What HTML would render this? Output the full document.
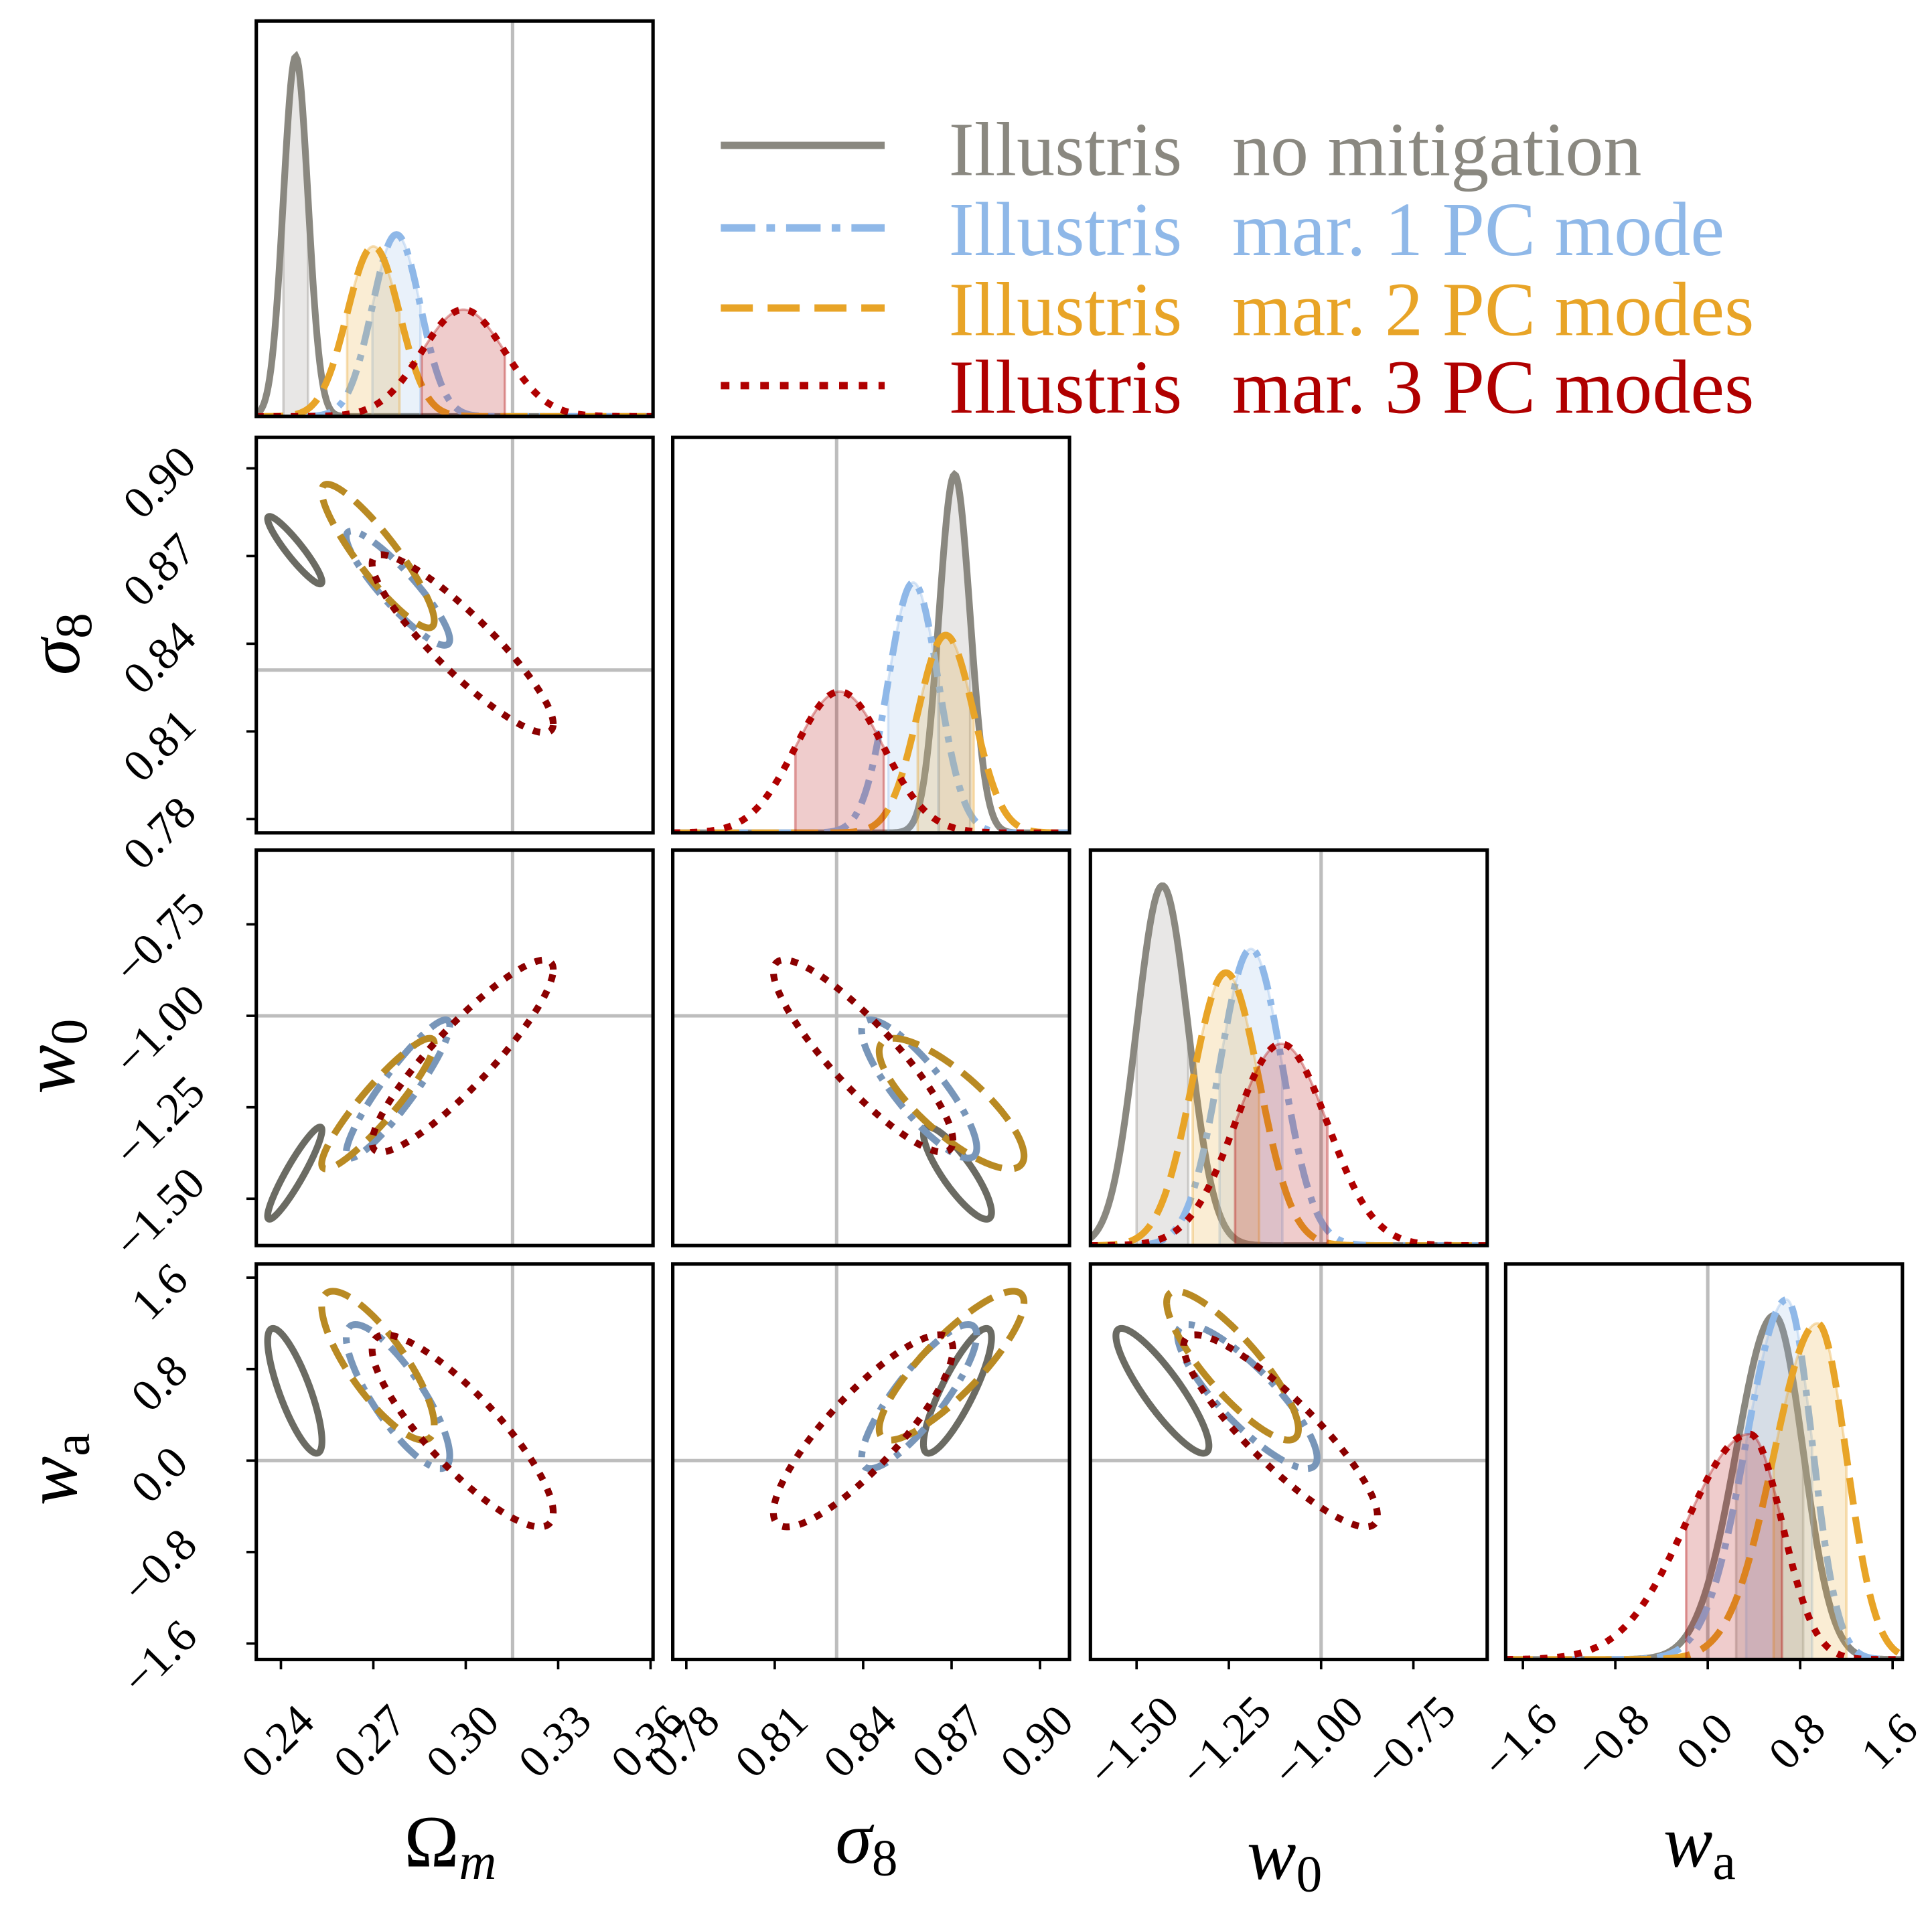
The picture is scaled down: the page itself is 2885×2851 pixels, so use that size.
<!DOCTYPE html>
<html><head><meta charset="utf-8"><style>
html,body{margin:0;padding:0;background:#fff}
svg{display:block}
text{font-family:"Liberation Serif","DejaVu Serif",serif}
</style></head><body>
<svg id="chart" width="2885" height="2851" viewBox="0 0 1568 1549.5" xmlns="http://www.w3.org/2000/svg"></svg>
<script>
// ---- data ----
const params = ["Om","s8","w0","wa"];
const seriesNames = ["no mitigation","mar. 1 PC mode","mar. 2 PC modes","mar. 3 PC modes"];
const truth = [0.3152, 0.831, -1.0, 0.0];
// 1D posteriors
const mean1dOm = [0.2448, 0.2775, 0.270, 0.2992];
const mean1dS8 = [0.871, 0.857, 0.868, 0.832];
const mean1dW0 = [-1.43, -1.19, -1.258, -1.108];
const mean1dWa = [0.576, 0.683, 0.95, 0.363];
const sig1dOm = [0.004, 0.0078, 0.0085, 0.0135];
const sig1dS8 = [0.0053, 0.0085, 0.0095, 0.015];
const sig1dW0 = [0.07, 0.085, 0.09, 0.125];
const sigLWa = [0.33, 0.35, 0.38, 0.55];
const sigRWa = [0.25, 0.22, 0.25, 0.28];
const peakOm = [0.91, 0.46, 0.43, 0.27];
const peakS8 = [0.906, 0.633, 0.50, 0.357];
const peakW0 = [0.91, 0.75, 0.69, 0.51];
const peakWa = [0.87, 0.91, 0.85, 0.57];
// 2D contour centres / widths
const mean2dOm = [0.2445, 0.278, 0.2715, 0.299];
const mean2dS8 = [0.872, 0.859, 0.870, 0.840];
const mean2dW0 = [-1.43, -1.20, -1.24, -1.11];
const mean2dWa = [0.61, 0.56, 0.83, 0.26];
const sig2dOm = [0.0042, 0.008, 0.0087, 0.014];
const sig2dS8 = [0.0055, 0.0093, 0.0117, 0.0145];
const sig2dW0 = [0.06, 0.09, 0.085, 0.125];
const sig2dWa = [0.26, 0.30, 0.31, 0.40];
const rhoOmS8 = [-0.93, -0.9, -0.9, -0.9];
const rhoOmW0 = [0.93, 0.92, 0.92, 0.9];
const rhoS8W0 = [-0.85, -0.85, -0.8, -0.88];
const rhoOmWa = [-0.8, -0.82, -0.8, -0.85];
const rhoS8Wa = [0.85, 0.85, 0.85, 0.85];
const rhoW0Wa = [-0.88, -0.85, -0.85, -0.88];
// ticks
const ticksOm = [0.24, 0.27, 0.30, 0.33, 0.36];
const ticksS8 = [0.78, 0.81, 0.84, 0.87, 0.90];
const ticksW0 = [-1.50, -1.25, -1.00, -0.75];
const ticksWa = [-1.6, -0.8, 0.0, 0.8, 1.6];
const tickLabOm = ["0.24","0.27","0.30","0.33","0.36"];
const tickLabS8 = ["0.78","0.81","0.84","0.87","0.90"];
const tickLabW0 = ["\u22121.50","\u22121.25","\u22121.00","\u22120.75"];
const tickLabWa = ["\u22121.6","\u22120.8","0.0","0.8","1.6"];

// ---- style/geometry ----
const NS="http://www.w3.org/2000/svg";
const svg=document.getElementById('chart');
const colL=[208,546,885,1222], rowT=[17,355,690,1026], PW=322, PH=321;
const rangeX=[[0.232,0.3608],[0.7754,0.9100],[-1.625,-0.55],[-1.749,1.685]];
const rangeY=[[0.232,0.3608],[0.7753,0.9106],[-1.628,-0.547],[-1.74,1.719]];
const col1d=["#8a8880","#8fb8e8","#e8a427","#b00000"];
const col2d=["#6b6b63","#7896b9","#b98a23","#8b0000"];
const dash=["none","20 8 5 8","22 10","6 8"];
const K=2.1;
const means1d=[mean1dOm,mean1dS8,mean1dW0,mean1dWa];
const sig1d=[sig1dOm,sig1dS8,sig1dW0,null];
const peaks=[peakOm,peakS8,peakW0,peakWa];
const means2d=[mean2dOm,mean2dS8,mean2dW0,mean2dWa];
const sig2d=[sig2dOm,sig2dS8,sig2dW0,sig2dWa];
const rho={"0,1":rhoOmS8,"0,2":rhoOmW0,"1,2":rhoS8W0,"0,3":rhoOmWa,"1,3":rhoS8Wa,"2,3":rhoW0Wa};
const ticks=[ticksOm,ticksS8,ticksW0,ticksWa];
const tickLabs=[tickLabOm,tickLabS8,tickLabW0,tickLabWa];

function xs(p,col,v){const r=rangeX[p];return colL[col]+(v-r[0])/(r[1]-r[0])*PW;}
function ys(p,row,v){const r=rangeY[p];return rowT[row]+PH-(v-r[0])/(r[1]-r[0])*PH;}
function el(tag,attrs,parent){const e=document.createElementNS(NS,tag);for(const k in attrs)e.setAttribute(k,attrs[k]);(parent||svg).appendChild(e);return e;}

const defs=el('defs',{});
for(let r=0;r<4;r++)for(let c=0;c<=r;c++){
  const cp=el('clipPath',{id:`clip${r}${c}`},defs);
  el('rect',{x:colL[c],y:rowT[r],width:PW,height:PH},cp);
}

function dens(p,s,v){
  const m=means1d[p][s];
  let sg;
  if(p===3) sg = v<m ? sigLWa[s] : sigRWa[s]; else sg=sig1d[p][s];
  return peaks[p][s]*Math.exp(-0.5*((v-m)/sg)**2);
}
function band(p,s){const m=means1d[p][s];if(p===3)return[m-sigLWa[s],m+sigRWa[s]];return[m-sig1d[p][s],m+sig1d[p][s]];}

for(let r=0;r<4;r++)for(let c=0;c<=r;c++){
  const g=el('g',{'clip-path':`url(#clip${r}${c})`});
  
  
  const tx=xs(c,c,truth[c]);
  el('line',{x1:tx,x2:tx,y1:rowT[r],y2:rowT[r]+PH,stroke:'#bdbdbd','stroke-width':2.8},g);
  if(r!==c){const ty=ys(r,r,truth[r]);el('line',{x1:colL[c],x2:colL[c]+PW,y1:ty,y2:ty,stroke:'#bdbdbd','stroke-width':2.8},g);}
  for(let s=0;s<4;s++){
    if(r===c){
      const p=c, base=rowT[r]+PH;
      const yv=v=>base-v*PH;
      const rg=rangeX[p], N=300;
      const [b0,b1]=band(p,s);
      let fill=`M${xs(p,c,b0)},${base}`;
      for(let i=0;i<=N;i++){const v=b0+(b1-b0)*i/N;fill+=`L${xs(p,c,v).toFixed(2)},${yv(dens(p,s,v)).toFixed(2)}`;}
      fill+=`L${xs(p,c,b1)},${base}Z`;
      const f=el('path',{d:fill,fill:col1d[s],'fill-opacity':0.2,stroke:col1d[s],'stroke-opacity':0.35,'stroke-width':2},g);
      
      
      let d='';
      for(let i=0;i<=N;i++){const v=rg[0]+(rg[1]-rg[0])*i/N;d+=(i?'L':'M')+xs(p,c,v).toFixed(2)+','+yv(dens(p,s,v)).toFixed(2);}
      const pl=el('path',{d:d,fill:'none',stroke:col1d[s],'stroke-width':5.5,'stroke-dasharray':dash[s]},g);
      
      
    } else {
      const mx=means2d[c][s], my=means2d[r][s], sx=sig2d[c][s], sy=sig2d[r][s], rh=rho[c+','+r][s];
      let d='';
      for(let i=0;i<=240;i++){const t=2*Math.PI*i/240;
        const vx=mx+K*sx*Math.cos(t), vy=my+K*sy*(rh*Math.cos(t)+Math.sqrt(1-rh*rh)*Math.sin(t));
        d+=(i?'L':'M')+xs(c,c,vx).toFixed(2)+','+ys(r,r,vy).toFixed(2);}
      const e=el('path',{d:d+'Z',fill:'none',stroke:col2d[s],'stroke-width':5.5,'stroke-dasharray':dash[s]},g);
      
      
    }
  }
  const fr=el('rect',{x:colL[c],y:rowT[r],width:PW,height:PH,fill:'none',stroke:'#000','stroke-width':2.8});
  
  
}

for(let c=0;c<4;c++){
  const y0=rowT[3]+PH;
  ticks[c].forEach((v,i)=>{
    const x=xs(c,c,v);
    el('line',{x1:x,x2:x,y1:y0,y2:y0+8,stroke:'#000','stroke-width':2});
    const t=el('text',{x:x,y:1416,'font-size':37,'text-anchor':'middle','dominant-baseline':'middle',transform:`rotate(-45 ${x} 1416)`});
    t.textContent=tickLabs[c][i];
    
    
  });
}
for(let r=1;r<4;r++){
  ticks[r].forEach((v,i)=>{
    const y=ys(r,r,v);
    el('line',{x1:colL[0]-8,x2:colL[0],y1:y,y2:y,stroke:'#000','stroke-width':2});
    const cx=132, cy=y+14;
    const t=el('text',{x:cx,y:cy,'font-size':37,'text-anchor':'middle','dominant-baseline':'middle',transform:`rotate(-45 ${cx} ${cy})`});
    t.textContent=tickLabs[r][i];
    
    
  });
}
</script>
<svg style="position:absolute;left:0;top:0" width="2885" height="2851" viewBox="0 0 1568 1549.5" xmlns="http://www.w3.org/2000/svg">
  <g font-family="Liberation Serif, DejaVu Serif, serif" font-style="italic" font-size="60">
    <text x="328" y="1515" font-style="normal">Ω<tspan font-style="italic" font-size="42" dy="10">m</tspan></text>
    <text x="678" y="1512">σ<tspan font-size="42" font-style="normal" dy="10">8</tspan></text>
    <text x="1012" y="1525">w<tspan font-size="42" font-style="normal" dy="10">0</tspan></text>
    <text x="1350" y="1515">w<tspan font-size="42" font-style="normal" dy="10">a</tspan></text>
    <text transform="translate(64 548) rotate(-90)">σ<tspan font-size="42" font-style="normal" dy="10">8</tspan></text>
    <text transform="translate(60 888) rotate(-90)">w<tspan font-size="42" font-style="normal" dy="10">0</tspan></text>
    <text transform="translate(62 1222) rotate(-90)">w<tspan font-size="42" font-style="normal" dy="10">a</tspan></text>
  </g>
  <g font-family="Liberation Serif, DejaVu Serif, serif" font-size="62">
    <line x1="585" x2="718" y1="118" y2="118" stroke="#8a8880" stroke-width="6"/>
    <line x1="585" x2="718" y1="185" y2="185" stroke="#8fb8e8" stroke-width="6" stroke-dasharray="28 9 7 9"/>
    <line x1="585" x2="718" y1="250" y2="250" stroke="#e8a427" stroke-width="6" stroke-dasharray="26 12"/>
    <line x1="585" x2="718" y1="313" y2="313" stroke="#b00000" stroke-width="6" stroke-dasharray="7 9"/>
    <text fill="#8a8880" y="142"><tspan x="770">Illustris</tspan><tspan x="1000">no mitigation</tspan></text>
    <text fill="#8fb8e8" y="207"><tspan x="770">Illustris</tspan><tspan x="1000">mar. 1 PC mode</tspan></text>
    <text fill="#e8a427" y="272"><tspan x="770">Illustris</tspan><tspan x="1000">mar. 2 PC modes</tspan></text>
    <text fill="#b00000" y="335"><tspan x="770">Illustris</tspan><tspan x="1000">mar. 3 PC modes</tspan></text>
  </g>
</svg>
</body></html>
